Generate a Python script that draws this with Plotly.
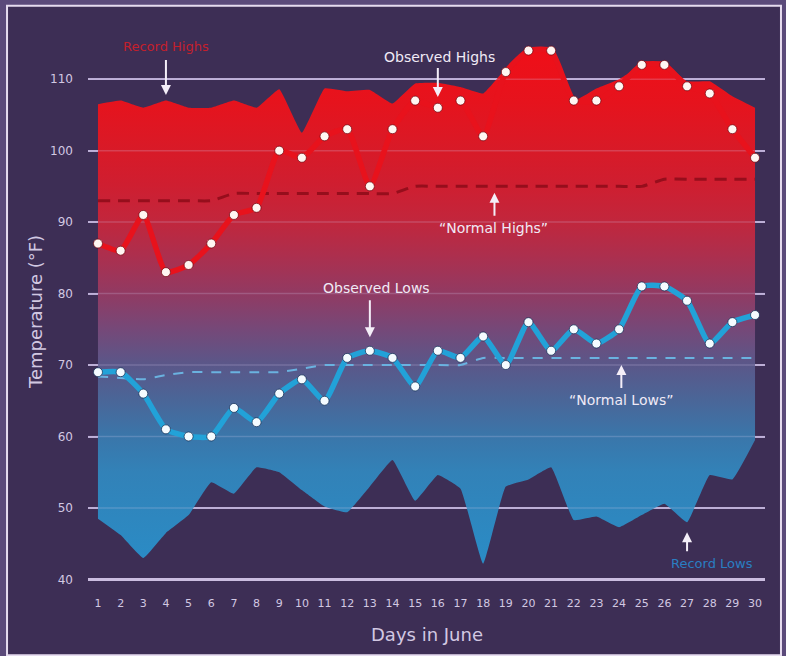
import plotly.graph_objects as go

days = list(range(1, 31))
day_labels = [str(d) for d in days]

record_highs = [106.5, 107, 106, 107, 106, 106, 107, 106, 108.6, 102.5, 108.7, 108.3, 108.5, 106.6, 109.4,
                109.5, 108.9, 108, 111.5, 114.2, 114.2, 107, 108.7, 110, 112, 112.3, 109.7, 109.7, 107.6, 106]
record_lows = [48.5, 46.2, 43, 46.5, 49, 53.6, 52, 55.7, 55, 52.5, 50.2, 49.4, 53, 56.7, 51,
               54.6, 52.7, 42.2, 53, 54, 55.7, 48.3, 48.8, 47.3, 49, 50.6, 48, 54.6, 54, 59.5]
observed_highs = [87, 86, 91, 83, 84, 87, 91, 92, 100, 99, 102, 103, 95, 103, 107,
                  106, 107, 102, 111, 114, 114, 107, 107, 109, 112, 112, 109, 108, 103, 99]
observed_lows = [69, 69, 66, 61, 60, 60, 64, 62, 66, 68, 65, 71, 72, 71, 67,
                 72, 71, 74, 70, 76, 72, 75, 73, 75, 81, 81, 79, 73, 76, 77]
normal_highs = [93, 93, 93, 93, 93, 93, 94, 94, 94, 94, 94, 94, 94, 94, 95,
                95, 95, 95, 95, 95, 95, 95, 95, 95, 95, 96, 96, 96, 96, 96]
normal_lows = [68.4, 68.2, 68, 68.6, 69, 69, 69, 69, 69, 69.5, 70, 70, 70, 70, 70,
               70, 70, 71, 71, 71, 71, 71, 71, 71, 71, 71, 71, 71, 71, 71]
y_ticks = [40, 50, 60, 70, 80, 90, 100, 110]

X_RANGE = [0.56, 30.44]
Y_RANGE = [39.5, 118]
FONT = "DejaVu Sans"
TXT = "#d2c8e2"
BG = "#3d2e55"
OUTER = "#5b4a7a"

fig = go.Figure()

# record band with vertical gradient
fig.add_trace(go.Scatter(x=days, y=record_lows, mode="lines", line=dict(width=0, shape="spline", smoothing=0.3),
                         hoverinfo="skip", showlegend=False))
fig.add_trace(go.Scatter(
    x=days, y=record_highs, mode="lines", line=dict(width=0, shape="spline", smoothing=0.3),
    fill="tonexty",
    fillgradient=dict(type="vertical", start=42, stop=114, colorscale=[
        [0.00, "#2a8cc6"], [0.18, "#3282b8"], [0.25, "#3a76aa"], [0.32, "#4a6698"],
        [0.39, "#5a5789"], [0.46, "#764878"], [0.53, "#923a62"], [0.60, "#ac2f4e"],
        [0.67, "#c2263c"], [0.74, "#cf1e30"], [0.82, "#da1926"], [0.90, "#e6131d"], [1.0, "#ef0f18"]]),
    hoverinfo="skip", showlegend=False))

# faint gridlines over the band
gx, gy = [], []
for t in y_ticks[1:]:
    gx += [X_RANGE[0], X_RANGE[1], None]
    gy += [t, t, None]
fig.add_trace(go.Scatter(x=gx, y=gy, mode="lines", line=dict(color="rgba(215,205,240,0.22)", width=1.5),
                         hoverinfo="skip", showlegend=False))
fig.add_trace(go.Scatter(x=X_RANGE, y=[y_ticks[0], y_ticks[0]], mode="lines",
                         line=dict(color="#cbbde0", width=3), hoverinfo="skip", showlegend=False))

# normals
fig.add_trace(go.Scatter(x=days, y=normal_highs, mode="lines",
                         line=dict(color="#960e1c", width=3, dash="12px,8px", shape="spline", smoothing=0.5),
                         hoverinfo="skip", showlegend=False))
fig.add_trace(go.Scatter(x=days, y=normal_lows, mode="lines",
                         line=dict(color="#6ab2e0", width=2, dash="10px,9px", shape="spline", smoothing=0.5),
                         hoverinfo="skip", showlegend=False))

# observed
fig.add_trace(go.Scatter(x=days, y=observed_highs, mode="lines+markers",
                         line=dict(color="#e8121c", width=5.5, shape="spline", smoothing=0.5),
                         marker=dict(color="#fff6f2", size=9, line=dict(color="rgba(110,0,10,0.7)", width=1)),
                         showlegend=False))
fig.add_trace(go.Scatter(x=days, y=observed_lows, mode="lines+markers",
                         line=dict(color="#22a2d8", width=5.5, shape="spline", smoothing=0.5),
                         marker=dict(color="#f4fbff", size=9, line=dict(color="rgba(10,40,80,0.7)", width=1)),
                         showlegend=False))

# frame
fig.add_shape(type="rect", xref="paper", yref="paper", x0=-0.1196, x1=1.0236, y0=-0.1287, y1=1.029,
              fillcolor=BG, line=dict(color="#e6dcef", width=2), layer="below")


def label(text, x, y, dx, dy, color="#f0eaf6", size=14):
    fig.add_annotation(text=text, x=x, y=y, xshift=dx, yshift=dy, showarrow=False,
                       font=dict(family=FONT, size=size, color=color), xanchor="center", yanchor="middle")


def pointer(x, y, ay):
    fig.add_annotation(text=" ", x=x, y=y, ax=0, ay=ay, showarrow=True, arrowhead=2, arrowsize=1,
                       arrowwidth=2, arrowcolor="#f4eef8", standoff=0, font=dict(size=2))


label("Record Highs", 4, 107.8, 0, 48, color="#c41f2c", size=13)
pointer(4, 107.8, -38)
label("Observed Highs", 16, 107.5, 2, 40)
pointer(16, 107.5, -32)
label("“Normal Highs”", 18.5, 94.1, -1, -35)
pointer(18.5, 94.1, 26)
label("Observed Lows", 13, 73.9, 7, 49)
pointer(13, 73.9, -40)
label("“Normal Lows”", 24.1, 70, 0, -35)
pointer(24.1, 70, 26)
label("Record Lows", 27, 46.6, 25, -31, color="#2a7ec2", size=13)
pointer(27, 46.6, 22)

fig.add_annotation(text="Temperature (°F)", xref="paper", yref="paper", x=0, y=0.483, xshift=-53,
                   textangle=-90, showarrow=False, xanchor="center", yanchor="middle",
                   font=dict(family=FONT, size=18, color=TXT))
fig.add_annotation(text="Days in June", xref="paper", yref="paper", x=0.5007, y=0, yshift=-51,
                   showarrow=False, xanchor="center", yanchor="middle",
                   font=dict(family=FONT, size=18, color=TXT))

fig.update_layout(
    width=786, height=656,
    margin=dict(l=88, r=21, t=22, b=73),
    paper_bgcolor=OUTER, plot_bgcolor="rgba(0,0,0,0)",
    xaxis=dict(range=X_RANGE, tickvals=days, ticktext=day_labels, showgrid=False, zeroline=False,
               showline=False, ticks="", ticklabelstandoff=12,
               tickfont=dict(family=FONT, size=11, color=TXT)),
    yaxis=dict(range=Y_RANGE, tickvals=y_ticks, showgrid=True, gridcolor="#b9aad2", gridwidth=1.5,
               zeroline=False, showline=False, ticks="", ticklabelstandoff=14,
               tickfont=dict(family=FONT, size=12, color=TXT)),
    showlegend=False,
)

fig.write_html("out.html", config={"displayModeBar": False},
               post_script="document.body.style.margin='0';document.body.style.background='%s';" % OUTER)
